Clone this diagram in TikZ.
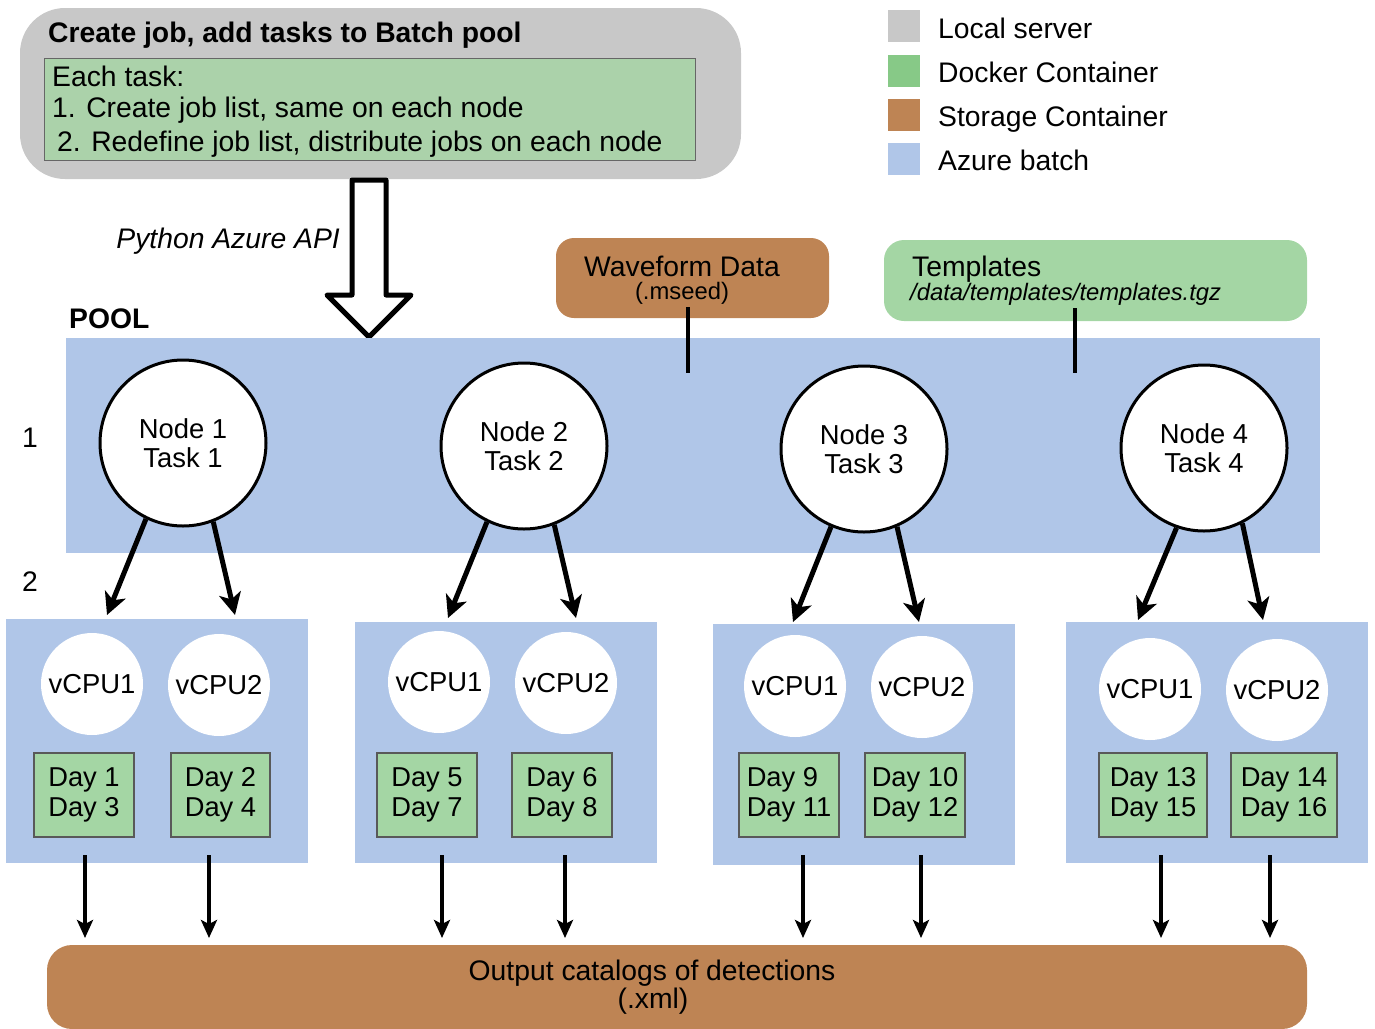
\documentclass[tikz,border=0pt]{standalone}
\usepackage{fontspec}
\setmainfont{Liberation Sans}
\usetikzlibrary{arrows.meta}
\definecolor{lgray}{RGB}{200,200,200}
\definecolor{dockgreen}{RGB}{135,201,135}
\definecolor{stbrown}{RGB}{190,132,84}
\definecolor{azb}{RGB}{176,198,232}
\definecolor{boxgreen}{RGB}{164,214,164}
\definecolor{topgreen}{RGB}{171,210,170}
\newcommand\mainsz{\fontsize{28.3}{31.5}\selectfont}
\newcommand\nodesz{\fontsize{27.4}{29.5}\selectfont}
\newcommand\daysz{\fontsize{27.3}{30}\selectfont}
\newcommand\smallsz{\fontsize{23.8}{26}\selectfont}
\tikzset{
  txt/.style={inner sep=0pt, font=\mainsz},
  panel/.style={inner sep=0pt, draw=none},
  legsq/.style={panel, minimum width=32pt, minimum height=32pt},
  taskcirc/.style={circle, draw=black, line width=3pt, fill=white, minimum size=166pt, inner sep=0pt, align=center, font=\nodesz},
  cpucirc/.style={circle, fill=white, draw=none, minimum size=102pt, inner sep=0pt, font=\nodesz},
  daybox/.style={fill=boxgreen, draw=black!65, line width=1.2pt, minimum height=84pt, inner sep=0pt, align=left, font=\daysz},
  bigarr/.style={line width=5pt, -{Stealth[length=22pt,width=22pt,inset=6pt]}},
  smarr/.style={line width=4pt, -{Stealth[length=18pt,width=16pt,inset=4pt]}},
  conn/.style={line width=4pt}
}
\begin{document}
\begin{tikzpicture}[x=1pt,y=-1pt]
\useasboundingbox (0,0) rectangle (1375,1028);

% ---------- top local server box ----------
\node[panel, fill=lgray, rounded corners=45pt, minimum width=721pt, minimum height=171pt] (local) at (380.5,93.5) {};
\node[fill=topgreen, draw=black!60, line width=1pt, minimum width=651pt, minimum height=102pt, inner sep=0pt] (steps) at (369.5,109) {};
\node[txt, anchor=base west, font=\mainsz\bfseries] (title) at (48,42) {Create job, add tasks to Batch pool};
\node[txt, anchor=base west] (l1) at (52,86) {Each task:};
\node[txt, anchor=base west] (l2) at (52,117) {1. Create job list, same on each node};
\node[txt, anchor=base west] (l3) at (57,151) {2. Redefine job list, distribute jobs on each node};

% ---------- legend ----------
\node[legsq, fill=lgray] (k1) at (904,26) {};
\node[legsq, fill=dockgreen] (k2) at (904,71) {};
\node[legsq, fill=stbrown] (k3) at (904,115) {};
\node[legsq, fill=azb] (k4) at (904,159) {};
\node[txt, anchor=base west] (k1t) at (938,38) {Local server};
\node[txt, anchor=base west] (k2t) at (938,82) {Docker Container};
\node[txt, anchor=base west] (k3t) at (938,126) {Storage Container};
\node[txt, anchor=base west] (k4t) at (938,170) {Azure batch};

% ---------- hollow API arrow ----------
\draw[line width=5pt, line join=round, fill=white]
  (352,180) -- (352,295) -- (327,295) -- (369,337) -- (411,295) -- (386,295) -- (386,180) -- cycle;
\node[txt, anchor=base east, font=\mainsz\itshape] (api) at (340,248) {Python Azure API};

% ---------- storage / template boxes ----------
\node[panel, fill=stbrown, rounded corners=18pt, minimum width=273pt, minimum height=80pt] (wave) at (692.5,278) {};
\node[txt, anchor=base] (wavet) at (682,276) {Waveform Data};
\node[txt, anchor=base, font=\smallsz] (waves) at (682,299) {(.mseed)};
\node[panel, fill=boxgreen, rounded corners=20pt, minimum width=423pt, minimum height=81pt] (tmpl) at (1095.5,280.5) {};
\node[txt, anchor=base west] (tmplt) at (912,276) {Templates};
\node[txt, anchor=base west, font=\smallsz\itshape] (tmpls) at (910,300) {/data/templates/templates.tgz};

% ---------- pool ----------
\node[txt, anchor=base west, font=\mainsz\bfseries] (poollbl) at (69,328) {POOL};
\node[panel, fill=azb, minimum width=1254pt, minimum height=215pt] (pool) at (693,445.5) {};
\coordinate (wvend) at (688,373);
\coordinate (tpend) at (1075,373);
\draw[conn] ([xshift=-4.5pt,yshift=11pt]wave.south) -- (wvend);
\draw[conn] ([xshift=-20.5pt,yshift=13pt]tmpl.south) -- (tpend);

\node[txt, anchor=base] (lab1) at (30,447) {1};
\node[txt, anchor=base] (lab2) at (30,591) {2};

% ---------- task nodes ----------
\node[taskcirc] (n1) at (183,443) {Node 1\\Task 1};
\node[taskcirc] (n2) at (524,446) {Node 2\\Task 2};
\node[taskcirc] (n3) at (864,449) {Node 3\\Task 3};
\node[taskcirc] (n4) at (1204,448) {Node 4\\Task 4};

% ---------- compute node boxes ----------
\node[panel, fill=azb, minimum width=302pt, minimum height=244pt] (s1) at (157,741) {};
\node[panel, fill=azb, minimum width=302pt, minimum height=241pt] (s2) at (506,742.5) {};
\node[panel, fill=azb, minimum width=302pt, minimum height=241pt] (s3) at (864,744.5) {};
\node[panel, fill=azb, minimum width=302pt, minimum height=241pt] (s4) at (1217,742.5) {};

\node[cpucirc] (c11) at (92,684) {vCPU1};
\node[cpucirc] (c12) at (219,685) {vCPU2};
\node[cpucirc] (c21) at (439,682) {vCPU1};
\node[cpucirc] (c22) at (566,683) {vCPU2};
\node[cpucirc] (c31) at (795,686) {vCPU1};
\node[cpucirc] (c32) at (922,687) {vCPU2};
\node[cpucirc] (c41) at (1150,689) {vCPU1};
\node[cpucirc] (c42) at (1277,690) {vCPU2};

\node[daybox, minimum width=100pt] (d11) at (84,795) {Day 1\\Day 3};
\node[daybox, minimum width=99pt] (d12) at (220.5,795) {Day 2\\Day 4};
\node[daybox, minimum width=100pt] (d21) at (427,795) {Day 5\\Day 7};
\node[daybox, minimum width=100pt] (d22) at (562,795) {Day 6\\Day 8};
\node[daybox, minimum width=100pt] (d31) at (789,795) {Day 9\\Day 11};
\node[daybox, minimum width=100pt] (d32) at (915,795) {Day 10\\Day 12};
\node[daybox, minimum width=108pt] (d41) at (1153,795) {Day 13\\Day 15};
\node[daybox, minimum width=106pt] (d42) at (1284,795) {Day 14\\Day 16};

% ---------- arrows node -> vCPU boxes ----------
\coordinate (t11) at (107,615);  \coordinate (t12) at (235,615);
\coordinate (t21) at (448,618);  \coordinate (t22) at (576,618);
\coordinate (t31) at (793,622);  \coordinate (t32) at (919,622);
\coordinate (t41) at (1138,620); \coordinate (t42) at (1263,620);
\draw[bigarr] (n1.244) -- (t11);
\draw[bigarr] (n1.291) -- (t12);
\draw[bigarr] (n2.244) -- (t21);
\draw[bigarr] (n2.291) -- (t22);
\draw[bigarr] (n3.247) -- (t31);
\draw[bigarr] (n3.293) -- (t32);
\draw[bigarr] (n4.251) -- (t41);
\draw[bigarr] (n4.297) -- (t42);

% ---------- output ----------
\node[panel, fill=stbrown, rounded corners=25pt, minimum width=1260pt, minimum height=84pt] (out) at (677,987) {};
\node[txt, anchor=base] (outt) at (652,980) {Output catalogs of detections};
\node[txt, anchor=base] (outs) at (653,1008) {(.xml)};

\coordinate (b11) at (85,938);   \coordinate (b12) at (209,938);
\coordinate (b21) at (442,938);  \coordinate (b22) at (565,938);
\coordinate (b31) at (803,938);  \coordinate (b32) at (921,938);
\coordinate (b41) at (1161,938); \coordinate (b42) at (1270,938);
\draw[smarr] ([yshift=8pt]s1.south -| b11) -- (b11);
\draw[smarr] ([yshift=8pt]s1.south -| b12) -- (b12);
\draw[smarr] ([yshift=8pt]s2.south -| b21) -- (b21);
\draw[smarr] ([yshift=8pt]s2.south -| b22) -- (b22);
\draw[smarr] ([yshift=10pt]s3.south -| b31) -- (b31);
\draw[smarr] ([yshift=10pt]s3.south -| b32) -- (b32);
\draw[smarr] ([yshift=8pt]s4.south -| b41) -- (b41);
\draw[smarr] ([yshift=8pt]s4.south -| b42) -- (b42);
\end{tikzpicture}
\end{document}
